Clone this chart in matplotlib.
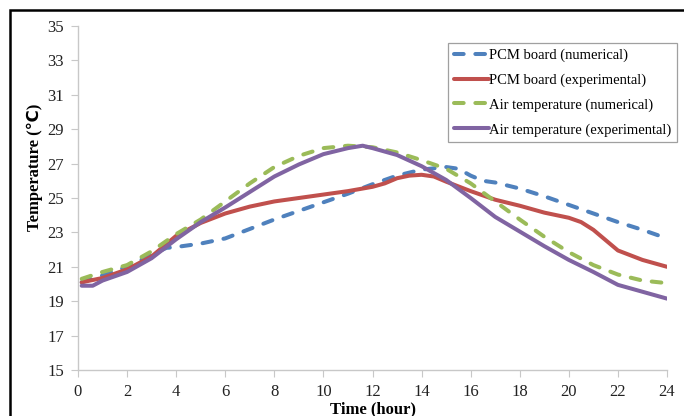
import matplotlib
matplotlib.use("Agg")
import matplotlib.pyplot as plt
from matplotlib.patches import Rectangle

# ---- data ----
t_pcm_num = [0.15, 1, 2, 3, 3.6, 4, 5, 6, 7, 8, 9, 10, 11, 12, 13, 14, 15, 15.5, 16, 16.5, 17, 18, 19, 20, 21, 22, 23, 24]
pcm_num = [20.1, 20.5, 21.0, 21.7, 22.1, 22.15, 22.35, 22.65, 23.2, 23.75, 24.25, 24.75, 25.25, 25.8, 26.3, 26.65, 26.8, 26.7, 26.3, 26.0, 25.9, 25.55, 25.1, 24.6, 24.1, 23.6, 23.15, 22.65]

t_pcm_exp = [0.15, 1, 2, 3, 4, 5, 6, 7, 8, 9, 10, 11, 12, 12.5, 13, 13.5, 14, 14.5, 15, 16, 17, 18, 19, 20, 20.5, 21, 21.5, 22, 23, 24]
pcm_exp = [20.1, 20.35, 20.85, 21.6, 22.8, 23.55, 24.1, 24.5, 24.8, 25.0, 25.2, 25.4, 25.65, 25.85, 26.15, 26.3, 26.35, 26.25, 25.95, 25.4, 24.9, 24.55, 24.15, 23.85, 23.6, 23.15, 22.55, 21.95, 21.4, 21.0]

t_air_num = [0.15, 1, 2, 3, 4, 5, 6, 7, 8, 9, 10, 11, 12, 13, 14, 15, 16, 17, 18, 19, 20, 21, 22, 23, 24]
air_num = [20.3, 20.7, 21.1, 21.9, 22.9, 23.75, 24.8, 25.85, 26.8, 27.45, 27.9, 28.04, 27.95, 27.65, 27.2, 26.7, 25.85, 24.8, 23.75, 22.75, 21.85, 21.1, 20.55, 20.2, 20.05]

t_air_exp = [0.15, 0.6, 1, 2, 3, 4, 5, 6, 7, 8, 9, 10, 11, 11.6, 12, 13, 14, 15, 16, 17, 18, 19, 20, 21, 22, 23, 24]
air_exp = [19.9, 19.9, 20.2, 20.7, 21.5, 22.6, 23.6, 24.45, 25.35, 26.25, 26.95, 27.55, 27.9, 28.04, 27.9, 27.5, 26.85, 26.05, 25.0, 23.9, 23.05, 22.2, 21.4, 20.7, 19.95, 19.55, 19.15]

labels = ["PCM board (numerical)", "PCM board (experimental)",
          "Air temperature (numerical)", "Air temperature (experimental)"]
x_ticks = list(range(0, 25, 2))
y_ticks = list(range(15, 36, 2))

plt.rcParams['font.family'] = ['Liberation Serif', 'DejaVu Sans']

W, H = 684, 416
fig = plt.figure(figsize=(W / 100, H / 100), dpi=100)
ax = fig.add_axes([78 / W, 1 - 370 / H, (667 - 78) / W, (370 - 26) / H])

lw = 2.9
dash = (0, (2.4, 2.9))
common = dict(lw=lw, solid_joinstyle='round', solid_capstyle='round',
              dash_capstyle='round', dash_joinstyle='round')
ax.plot(t_pcm_num, pcm_num, color='#4F81BD', ls=dash, label=labels[0], **common)
ax.plot(t_pcm_exp, pcm_exp, color='#C0504D', label=labels[1], **common)
ax.plot(t_air_num, air_num, color='#9BBB59', ls=dash, label=labels[2], **common)
ax.plot(t_air_exp, air_exp, color='#8064A2', label=labels[3], **common)

ax.set_xlim(0, 24)
ax.set_ylim(15, 35)
ax.set_xticks(x_ticks)
ax.set_yticks(y_ticks)
for s in ['top', 'right']:
    ax.spines[s].set_visible(False)
for s in ['left', 'bottom']:
    ax.spines[s].set_color('#c8c8c8')
    ax.spines[s].set_linewidth(1.0)
ax.tick_params(axis='both', direction='out', length=5, color='#c8c8c8',
               labelsize=12, labelcolor='#222222', pad=5)

fig.text(35 / W, 1 - 167 / H, "Temperature (\u2103)", rotation=90, ha='center', va='center',
         fontsize=12, fontweight='bold')
fig.text((78 + 667) / 2 / W, 1 - 409 / H, "Time (hour)", ha='center', va='center',
         fontsize=12, fontweight='bold')

leg = ax.legend(loc='upper left', bbox_to_anchor=(448 / W, 1 - 43 / H),
                bbox_transform=fig.transFigure, fontsize=10.5, frameon=True,
                fancybox=False, edgecolor='#888888', handlelength=2.4,
                handletextpad=0.05, labelspacing=0.78, borderpad=0.38, borderaxespad=0)
leg.get_frame().set_linewidth(0.9)

# outer black frame (partially cut by image edges)
fig.patches.append(Rectangle((10 / W, -0.1), 1.2, 1 - 10 / H + 0.1, transform=fig.transFigure,
                             fill=False, edgecolor='black', linewidth=1.8))

fig.savefig("out.png", dpi=100)
